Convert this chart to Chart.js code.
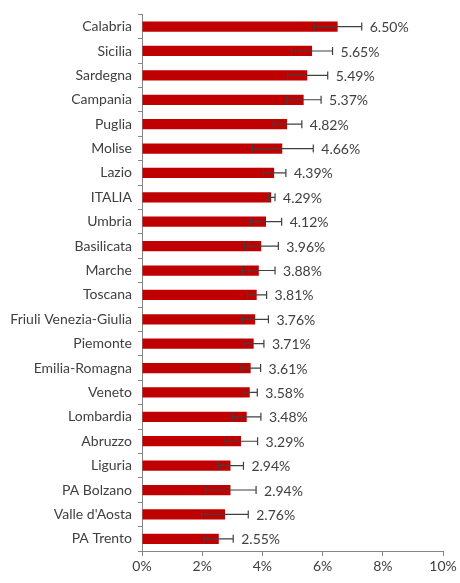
<!DOCTYPE html>
<html>
<head>
<meta charset="utf-8">
<script src="https://cdn.jsdelivr.net/npm/chart.js@4"></script>
<style>
  html, body { margin: 0; padding: 0; background: #fff; }
  #wrap { width: 460px; height: 583px; }
</style>
</head>
<body>
<div id="wrap"><canvas id="chart"></canvas></div>
<script>
// Regions, sorted as in the picture
const regions = ['Calabria', 'Sicilia', 'Sardegna', 'Campania', 'Puglia', 'Molise', 'Lazio', 'ITALIA',
  'Umbria', 'Basilicata', 'Marche', 'Toscana', 'Friuli Venezia-Giulia', 'Piemonte', 'Emilia-Romagna',
  'Veneto', 'Lombardia', 'Abruzzo', 'Liguria', 'PA Bolzano', "Valle d'Aosta", 'PA Trento'];

// Percentages
const values = [6.50, 5.65, 5.49, 5.37, 4.82, 4.66, 4.39, 4.29, 4.12, 3.96, 3.88, 3.81, 3.76,
  3.71, 3.61, 3.58, 3.48, 3.29, 2.94, 2.94, 2.76, 2.55];

// Confidence interval bounds
const lower = [5.72, 4.97, 4.83, 4.81, 4.36, 3.67, 4.03, 4.20, 3.60, 3.40, 3.34, 3.51, 3.34,
  3.38, 3.29, 3.37, 3.01, 2.76, 2.54, 2.12, 1.98, 2.06];
const upper = [7.30, 6.33, 6.17, 5.95, 5.31, 5.69, 4.78, 4.42, 4.64, 4.53, 4.42, 4.14, 4.20,
  4.05, 3.94, 3.83, 3.95, 3.84, 3.37, 3.79, 3.53, 3.03];

const xTicks = [0, 2, 4, 6, 8, 10];

const FONT = 'Lato, "Liberation Sans", sans-serif';
const TEXT = '#404040';

// error bars + value labels
const errorBars = {
  id: 'errorBars',
  afterDatasetsDraw(chart) {
    const ctx = chart.ctx;
    const x = chart.scales.x;
    const meta = chart.getDatasetMeta(0);
    ctx.save();
    ctx.strokeStyle = '#404040';
    ctx.lineWidth = 1.2;
    meta.data.forEach((bar, i) => {
      const y = bar.y;
      const x1 = x.getPixelForValue(lower[i]);
      const x2 = x.getPixelForValue(upper[i]);
      ctx.beginPath();
      ctx.moveTo(x1, y); ctx.lineTo(x2, y);
      ctx.moveTo(x1, y - 4); ctx.lineTo(x1, y + 4);
      ctx.moveTo(x2, y - 4); ctx.lineTo(x2, y + 4);
      ctx.stroke();
    });
    ctx.fillStyle = TEXT;
    ctx.font = '14px ' + FONT;
    ctx.textBaseline = 'middle';
    ctx.textAlign = 'left';
    meta.data.forEach((bar, i) => {
      const end = Math.max(x.getPixelForValue(values[i]), x.getPixelForValue(upper[i]));
      ctx.fillText(values[i].toFixed(2) + '%', end + 8, bar.y + 1);
    });
    ctx.restore();
  }
};

new Chart(document.getElementById('chart'), {
  type: 'bar',
  data: {
    labels: regions,
    datasets: [{
      data: values,
      backgroundColor: '#C00000',
      borderWidth: 0,
      categoryPercentage: 1,
      barPercentage: 0.42
    }]
  },
  options: {
    indexAxis: 'y',
    responsive: true,
    maintainAspectRatio: false,
    animation: false,
    layout: { padding: { top: 14, right: 17, left: 0, bottom: 0 } },
    plugins: { legend: { display: false }, tooltip: { enabled: false } },
    scales: {
      x: {
        min: 0,
        max: 10,
        afterBuildTicks(scale) { scale.ticks = xTicks.map(v => ({ value: v })); },
        afterFit(scale) { scale.height = 32; },
        border: { color: '#868686', width: 1 },
        grid: { drawOnChartArea: false, drawTicks: true, tickLength: 5, color: '#868686' },
        ticks: {
          color: TEXT,
          font: { family: FONT, size: 14 },
          padding: 2,
          maxRotation: 0,
          callback: v => v + '%'
        }
      },
      y: {
        afterFit(scale) { scale.width = 142; },
        border: { color: '#868686', width: 1 },
        grid: { drawOnChartArea: false, drawTicks: true, tickLength: 4, color: '#868686', offset: true },
        ticks: {
          color: TEXT,
          font: { family: FONT, size: 14 },
          padding: 6,
          autoSkip: false
        }
      }
    }
  },
  plugins: [errorBars]
});
</script>
</body>
</html>
